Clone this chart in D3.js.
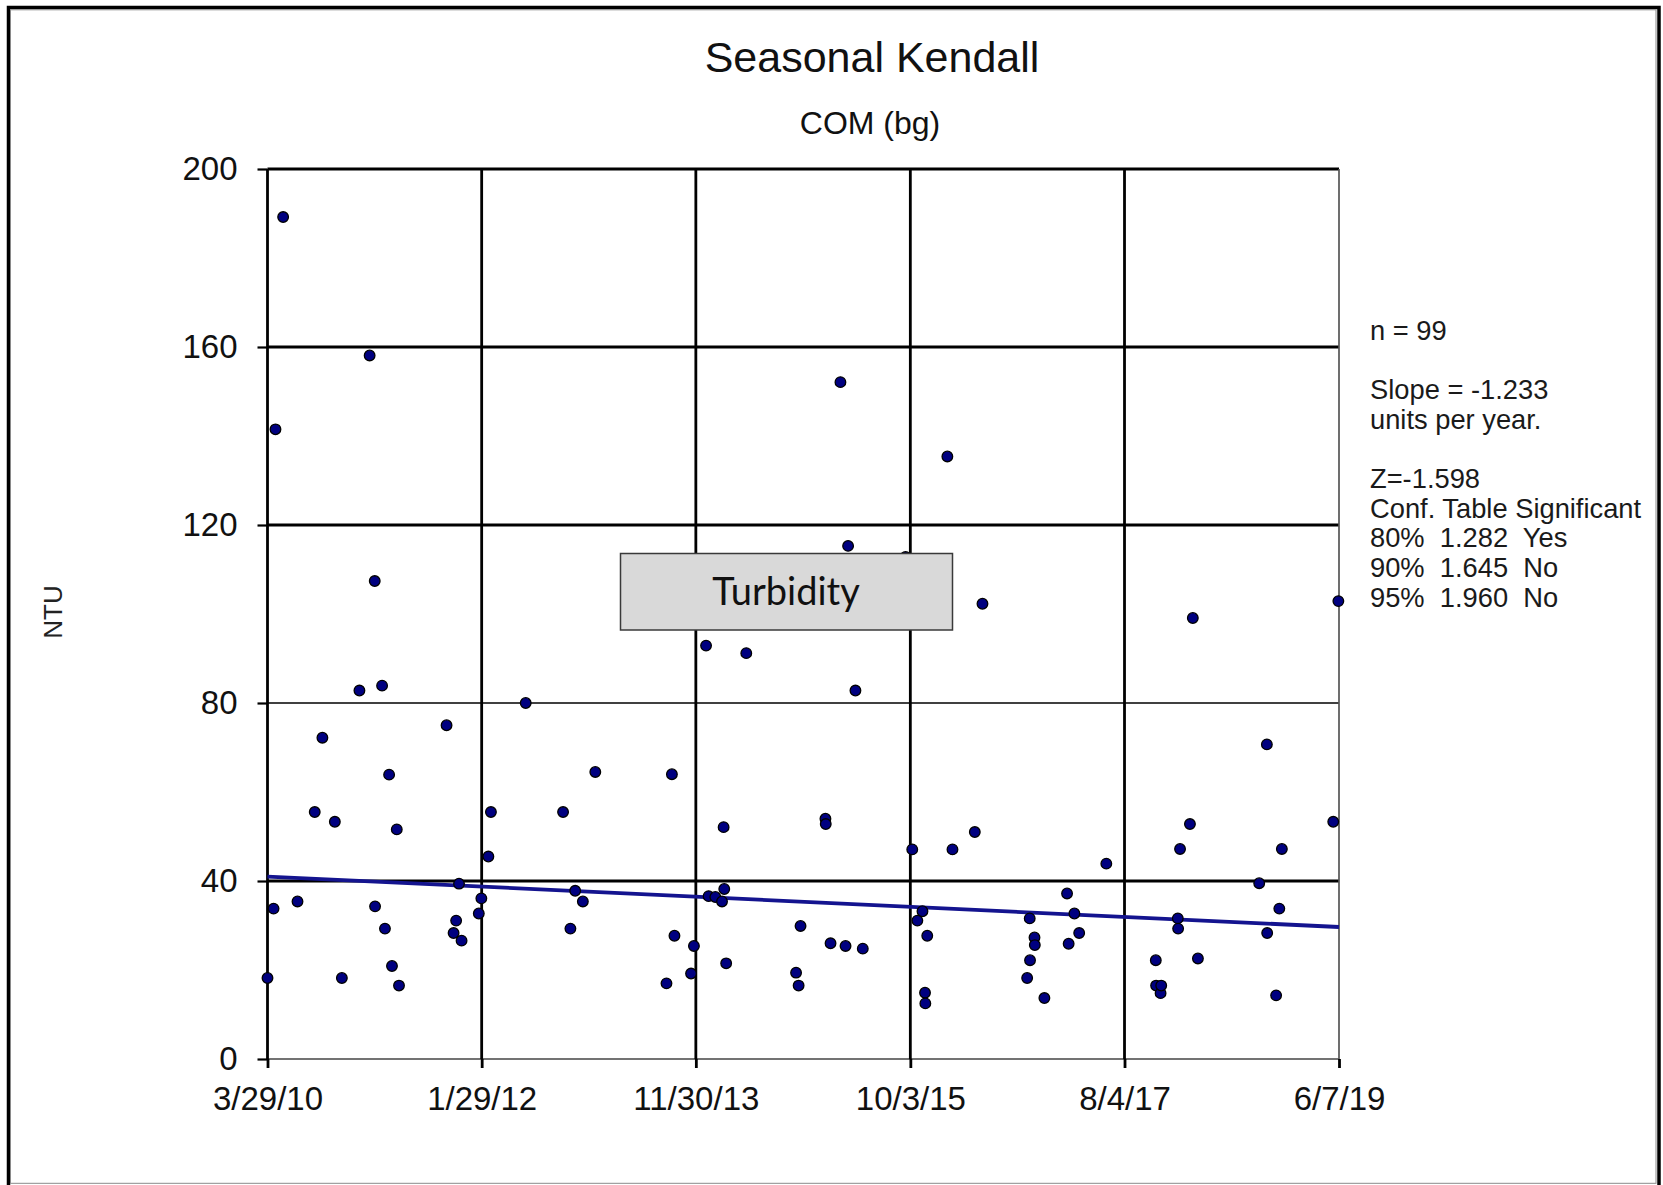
<!DOCTYPE html>
<html>
<head>
<meta charset="utf-8">
<script src="https://cdn.jsdelivr.net/npm/d3@7"></script>
<style>
  html, body { margin: 0; padding: 0; background: #fff; }
  svg { display: block; }
  text { font-family: "Liberation Sans", Arial, sans-serif; fill: #111; }
</style>
</head>
<body>
<script>
// Turbidity samples at station COM (bg), NTU
const sampleDates = [
  "2010-03-29","2010-04-17","2010-04-23","2010-05-17","2010-07-01","2010-08-24","2010-09-17","2010-10-26",
  "2010-11-17","2011-01-11","2011-02-12","2011-02-28","2011-03-01","2011-03-23","2011-04-01","2011-04-14",
  "2011-04-23","2011-05-08","2011-05-15","2011-10-11","2011-11-02","2011-11-10","2011-11-19","2011-11-27",
  "2012-01-20","2012-01-28","2012-02-19","2012-02-27","2012-06-15","2012-10-10","2012-11-02","2012-11-17",
  "2012-12-11","2013-01-19","2013-08-30","2013-09-16","2013-09-24","2013-11-15","2013-11-24","2014-01-01",
  "2014-01-09","2014-01-30","2014-02-20","2014-02-25","2014-02-27","2014-03-05","2014-05-07","2014-10-10",
  "2014-10-18","2014-10-24","2015-01-10","2015-01-11","2015-01-26","2015-02-26","2015-03-14","2015-03-22",
  "2015-04-14","2015-05-07","2015-09-18","2015-10-09","2015-10-25","2015-11-10","2015-11-18","2015-11-19",
  "2015-11-25","2016-01-27","2016-02-12","2016-04-22","2016-05-16","2016-10-03","2016-10-11","2016-10-12",
  "2016-10-26","2016-10-27","2016-11-26","2017-02-05","2017-02-10","2017-02-28","2017-03-15","2017-06-08",
  "2017-11-10","2017-11-11","2017-11-25","2017-11-27","2018-01-18","2018-01-19","2018-01-25","2018-02-25",
  "2018-03-06","2018-03-22","2018-09-30","2018-10-24","2018-10-25","2018-11-22","2018-12-02","2018-12-10",
  "2019-05-20","2019-06-05"
];
const turbidity = [
  18.2, 33.8, 141.5, 189.2, 35.4, 55.5, 72.2, 53.3,
  18.2, 82.8, 158.1, 107.4, 34.3, 83.9, 29.3, 63.9,
  20.9, 51.6, 16.5, 75.0, 28.3, 31.1, 39.4, 26.6,
  32.7, 36.1, 45.5, 55.5, 80.0, 55.5, 29.3, 37.8,
  35.4, 64.5, 17.0, 64.0, 27.7, 19.2, 25.4, 92.9,
  36.6, 36.4, 35.4, 52.1, 38.2, 21.5, 91.2, 19.4,
  16.5, 29.9, 54.0, 52.8, 26.0, 152.1, 25.4, 115.3,
  82.8, 24.8, 112.8, 47.1, 31.1, 33.2, 14.9, 12.5,
  27.7, 135.4, 47.1, 51.0, 102.3, 18.2, 31.6, 22.2,
  27.3, 25.6, 13.7, 37.2, 25.9, 32.7, 28.3, 43.9,
  22.2, 16.5, 14.8, 16.5, 31.6, 29.3, 47.2, 52.8,
  99.1, 22.6, 39.5, 70.7, 28.3, 14.3, 33.8, 47.2,
  53.3, 102.9
];

// Axis ticks
const xTickDates = ["2010-03-29","2012-01-29","2013-11-30","2015-10-03","2017-08-04","2019-06-07"];
const yTicks = [0, 40, 80, 120, 160, 200];

// Seasonal Kendall trend (Sen slope) and test results
const trendStartValue = 41.0;
const trendSlopePerYear = -1.233;
const statLines = [
  "n = 99",
  "",
  "Slope = -1.233",
  "units per year.",
  "",
  "Z=-1.598",
  "Conf. Table Significant",
  "80%  1.282  Yes",
  "90%  1.645  No",
  "95%  1.960  No"
];

const parseDate = d3.utcParse("%Y-%m-%d");
const points = sampleDates.map((d, i) => ({ date: parseDate(d), value: turbidity[i] }));
const xTicks = xTickDates.map(parseDate);

const W = 1663, H = 1185;
const plot = { left: 267.5, right: 1339, top: 169, bottom: 1059 };

const svg = d3.select("body").append("svg").attr("width", W).attr("height", H);

// outer frame
svg.append("rect").attr("x", 8.5).attr("y", 7.5).attr("width", 1650.5).attr("height", 1180)
  .attr("fill", "#fff").attr("stroke", "#000").attr("stroke-width", 3.5);
svg.append("rect").attr("x", 10.5).attr("y", 9.8).attr("width", 1645.5).attr("height", 1173.5)
  .attr("fill", "none").attr("stroke", "#8a8a8a").attr("stroke-width", 1);

const x = d3.scaleUtc().domain([xTicks[0], xTicks[xTicks.length - 1]]).range([plot.left, plot.right]);
const y = d3.scaleLinear().domain([0, 200]).range([plot.bottom, plot.top]);

// titles
svg.append("text").attr("x", 872).attr("y", 72).attr("text-anchor", "middle")
  .style("font-size", "43px").text("Seasonal Kendall");
svg.append("text").attr("x", 870).attr("y", 134).attr("text-anchor", "middle")
  .style("font-size", "32px").text("COM (bg)");

// y axis label
svg.append("text").attr("transform", "translate(62,612) rotate(-90)").attr("text-anchor", "middle")
  .style("font-size", "26px").style("fill", "#222").text("NTU");

// horizontal gridlines
const thinH = new Set([0, 80]);
svg.append("g").selectAll("line").data(yTicks).join("line")
  .attr("x1", plot.left).attr("x2", plot.right)
  .attr("y1", d => y(d)).attr("y2", d => y(d))
  .attr("stroke", d => d === 0 ? "#444" : "#000")
  .attr("stroke-width", d => thinH.has(d) ? 1.7 : 2.8);

// vertical gridlines
svg.append("g").selectAll("line").data(xTicks).join("line")
  .attr("x1", d => x(d)).attr("x2", d => x(d))
  .attr("y1", plot.top).attr("y2", plot.bottom)
  .attr("stroke", (d, i) => i === xTicks.length - 1 ? "#555" : "#000")
  .attr("stroke-width", (d, i) => i === xTicks.length - 1 ? 1.7 : 2.8);

// axes
const yAxis = svg.append("g").attr("transform", `translate(${plot.left},0)`)
  .call(d3.axisLeft(y).tickValues(yTicks).tickSize(10).tickPadding(20).tickFormat(d3.format("d")));
yAxis.select(".domain").remove();
yAxis.selectAll(".tick line").attr("stroke", "#000").attr("stroke-width", 2.2);
yAxis.selectAll(".tick text").style("font-size", "33px").style("font-family", "Liberation Sans, Arial, sans-serif").attr("fill", "#111");

const xAxis = svg.append("g").attr("transform", `translate(0,${plot.bottom})`)
  .call(d3.axisBottom(x).tickValues(xTicks).tickSize(9).tickPadding(19).tickFormat(d3.utcFormat("%-m/%-d/%y")));
xAxis.select(".domain").remove();
xAxis.selectAll(".tick line").attr("stroke", "#000").attr("stroke-width", 2.8);
xAxis.selectAll(".tick text").style("font-size", "33px").style("font-family", "Liberation Sans, Arial, sans-serif").attr("fill", "#111");

// trend line
const dayMs = 86400000;
const startDate = x.domain()[0], endDate = x.domain()[1];
const trendEnd = trendStartValue + trendSlopePerYear * ((endDate - startDate) / dayMs / 365.25);
const trend = [{ date: startDate, value: trendStartValue }, { date: endDate, value: trendEnd }];
svg.append("path").datum(trend)
  .attr("d", d3.line().x(d => x(d.date)).y(d => y(d.value)))
  .attr("fill", "none").attr("stroke", "#14148f").attr("stroke-width", 3.8);

// sample points
svg.append("g").selectAll("circle").data(points).join("circle")
  .attr("cx", d => x(d.date)).attr("cy", d => y(d.value)).attr("r", 5.3)
  .attr("fill", "#000080").attr("stroke", "#000").attr("stroke-width", 1.3);

// parameter label box
svg.append("rect").attr("x", 620.5).attr("y", 553.5).attr("width", 332).attr("height", 76.5)
  .attr("fill", "#d9d9d9").attr("stroke", "#3a3a3a").attr("stroke-width", 1.5);
svg.append("text").attr("x", 786).attr("y", 605).attr("text-anchor", "middle")
  .style("font-family", "Lato, 'Open Sans', sans-serif").style("font-size", "38px").text("Turbidity");

// statistics block
svg.append("g").selectAll("text").data(statLines).join("text")
  .attr("x", 1370).attr("y", (d, i) => 339.5 + i * 29.7)
  .attr("xml:space", "preserve").style("white-space", "pre")
  .style("font-size", "27.3px").style("fill", "#1a1a1a")
  .text(d => d);
</script>
</body>
</html>
